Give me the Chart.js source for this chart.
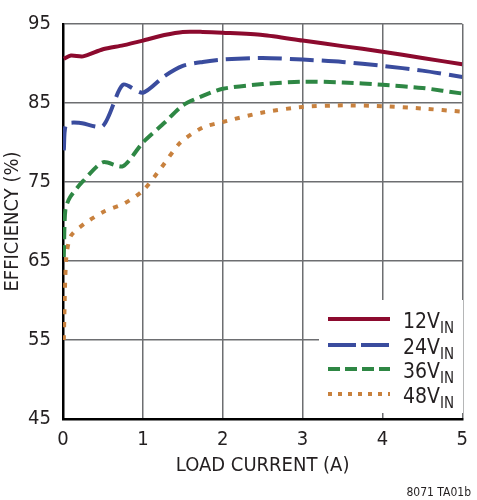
<!DOCTYPE html>
<html>
<head>
<meta charset="utf-8">
<script src="https://cdn.jsdelivr.net/npm/chart.js@4"></script>
<style>
  html, body { margin: 0; padding: 0; background: #fff; }
  #wrap { width: 477px; height: 500px; }
</style>
</head>
<body>
<div id="wrap"><canvas id="eff-chart" width="477" height="500"></canvas></div>
<script>
// values
const seriesNames = ['12V', '24V', '36V', '48V']

const load12 = [0.01, 0.1, 0.25, 0.5, 0.75, 1.0, 1.27, 1.5, 1.75, 2.0, 2.5, 3.0, 3.5, 4.0, 4.5, 5.0]
const eff12 = [90.6, 91.0, 90.9, 91.8, 92.3, 92.9, 93.6, 94.0, 94.0, 93.9, 93.6, 92.9, 92.2, 91.5, 90.7, 89.9]

const load24 = [0.01, 0.04, 0.2, 0.5, 0.75, 1.0, 1.27, 1.5, 1.75, 2.0, 2.5, 3.0, 3.5, 4.0, 4.5, 5.0]
const eff24 = [79.0, 82.3, 82.5, 82.1, 87.3, 86.3, 88.4, 89.7, 90.2, 90.5, 90.7, 90.5, 90.2, 89.7, 89.1, 88.3]

const load36 = [0.01, 0.03, 0.09, 0.25, 0.5, 0.75, 1.0, 1.27, 1.5, 1.75, 2.0, 2.5, 3.0, 3.5, 4.0, 4.5, 5.0]
const eff36 = [65.5, 71.5, 73.1, 75.1, 77.5, 77.0, 80.0, 82.5, 84.7, 85.9, 86.8, 87.4, 87.7, 87.6, 87.3, 86.9, 86.2]

const load48 = [0.01, 0.04, 0.1, 0.28, 0.52, 0.77, 1.0, 1.23, 1.47, 1.75, 2.0, 2.5, 3.0, 3.5, 4.0, 4.5, 5.0]
const eff48 = [55.0, 65.3, 68.2, 69.8, 71.3, 72.3, 73.9, 76.8, 80.0, 81.9, 82.6, 83.8, 84.5, 84.7, 84.6, 84.3, 83.9]

const xTicks = [0, 1, 2, 3, 4, 5]
const yTicks = [45, 55, 65, 75, 85, 95]

const colors = ['#8c0a2e', '#3a4c9e', '#2e8744', '#c8813e']
const dashes = [[], [24, 8], [12, 6], [5, 8]]

const FONT = '"Liberation Sans Narrow", "DejaVu Sans Condensed", sans-serif'

function pts(xs, ys) {
    return xs.map((x, i) => ({ x: x, y: ys[i] }))
}

const allLoads = [load12, load24, load36, load48]
const allEffs = [eff12, eff24, eff36, eff48]

const datasets = seriesNames.map((name, i) => ({
    label: name,
    data: pts(allLoads[i], allEffs[i]),
    borderColor: colors[i],
    borderWidth: 4,
    borderDash: dashes[i],
    pointRadius: 0,
    fill: false,
    tension: 0.25
}))

// legend box with subscript "IN", drawn over the grid like the original
const legendBox = {
    id: 'legendBox',
    afterDraw(chart) {
        const c = chart.ctx
        c.save()
        c.fillStyle = '#fff'
        c.fillRect(319, 300, 144, 113)
        const rows = [319, 345, 369, 394]
        seriesNames.forEach((name, i) => {
            const y = rows[i]
            c.beginPath()
            c.strokeStyle = colors[i]
            c.lineWidth = 4
            c.setLineDash(i === 1 ? [28, 5] : i === 2 ? [12, 5] : i === 3 ? [4, 6] : [])
            c.moveTo(328, y)
            c.lineTo(390, y)
            c.stroke()
            c.setLineDash([])
            c.fillStyle = '#231f20'
            c.textBaseline = 'alphabetic'
            c.textAlign = 'left'
            c.font = '21px ' + FONT
            c.fillText(name, 403, y + 9)
            const w = c.measureText(name).width
            c.font = '15px ' + FONT
            c.fillText('IN', 403 + w, y + 14)
        })
        c.font = '12px ' + FONT
        c.textAlign = 'right'
        c.fillText('8071 TA01b', 471, 496)
        c.restore()
    }
}

const ctx = document.getElementById('eff-chart').getContext('2d')
const effChart = new Chart(ctx, {
    type: 'line',
    data: { datasets: datasets },
    options: {
        responsive: false,
        animation: false,
        layout: { padding: { top: 11, right: 6, bottom: 20, left: 0 } },
        plugins: { legend: { display: false }, tooltip: { enabled: false } },
        scales: {
            x: {
                type: 'linear',
                min: 0,
                max: 5,
                afterBuildTicks: (s) => { s.ticks = xTicks.map(v => ({ value: v })) },
                afterFit: (s) => { s.height = 61 },
                grid: { color: '#6d6e71', lineWidth: 1.5, drawTicks: false },
                border: { color: '#000', width: 2.5 },
                ticks: { color: '#231f20', font: { family: FONT, size: 20 }, padding: 9 },
                title: { display: true, text: 'LOAD CURRENT (A)', color: '#231f20', font: { family: FONT, size: 20 }, padding: { top: 0, bottom: 2 } }
            },
            y: {
                min: 45,
                max: 95,
                afterBuildTicks: (s) => { s.ticks = yTicks.map(v => ({ value: v })) },
                afterFit: (s) => { s.width = 63 },
                grid: { color: '#6d6e71', lineWidth: 1.5, drawTicks: false },
                border: { color: '#000', width: 2.5 },
                ticks: { color: '#231f20', font: { family: FONT, size: 20 }, padding: 12 },
                title: { display: true, text: 'EFFICIENCY (%)', color: '#231f20', font: { family: FONT, size: 20 }, padding: { top: 1, bottom: 0 } }
            }
        }
    },
    plugins: [legendBox]
})
</script>
</body>
</html>
